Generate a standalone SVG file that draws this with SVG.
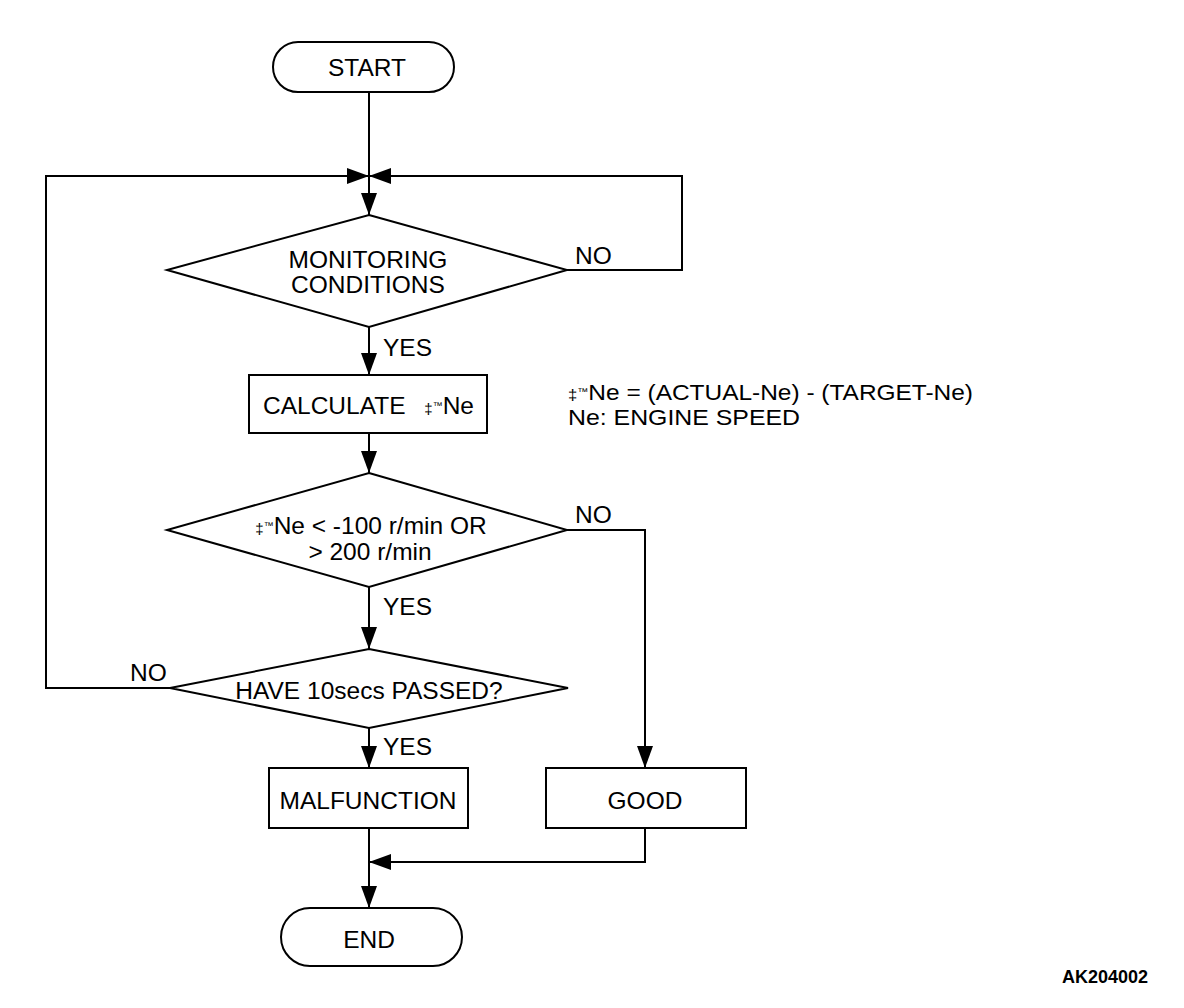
<svg xmlns="http://www.w3.org/2000/svg" width="1184" height="1008" viewBox="0 0 1184 1008">
<style>
.s{fill:#fff;stroke:#000;stroke-width:2}
.c{fill:none;stroke:#000;stroke-width:2}
text{font-family:"Liberation Sans",Arial,sans-serif;font-size:24.5px;fill:#000}
.m{text-anchor:middle}
.n{font-size:22px}
.g1{font-size:15px}
.g2{font-size:10px}
.b{font-weight:bold;font-size:18px}
</style>
<defs>
<marker id="arr" viewBox="0 0 22 16" refX="22" refY="8" markerWidth="22" markerHeight="16" markerUnits="userSpaceOnUse" orient="auto">
<path d="M0,0 L22,8 L0,16 Z" fill="#000"/>
</marker>
</defs>
<rect width="1184" height="1008" fill="#fff"/>
<g id="connectors">
<path class="c" d="M369,92 L369,215" marker-end="url(#arr)"/>
<path class="c" d="M170,688 L46,688 L46,176 L369,176" marker-end="url(#arr)"/>
<path class="c" d="M567,270 L682,270 L682,176 L369,176" marker-end="url(#arr)"/>
<path class="c" d="M369,327 L369,375" marker-end="url(#arr)"/>
<path class="c" d="M369,433 L369,473" marker-end="url(#arr)"/>
<path class="c" d="M567,530 L645,530 L645,768" marker-end="url(#arr)"/>
<path class="c" d="M369,587 L369,649" marker-end="url(#arr)"/>
<path class="c" d="M369,728 L369,768" marker-end="url(#arr)"/>
<path class="c" d="M369,828 L369,908" marker-end="url(#arr)"/>
<path class="c" d="M645,828 L645,862 L369,862" marker-end="url(#arr)"/>
<text x="575" y="264">NO</text>
<text x="383" y="356">YES</text>
<text x="575" y="523">NO</text>
<text x="383" y="615">YES</text>
<text x="130" y="681">NO</text>
<text x="383" y="755">YES</text>
</g>
<g id="start">
<rect class="s" x="273" y="42" width="181" height="50" rx="25"/>
<text class="m" x="367" y="76">START</text>
</g>
<g id="monitoring">
<polygon class="s" points="369,215 567,270 369,327 167,270"/>
<text class="m" x="368" y="268">MONITORING</text>
<text class="m" x="368" y="293">CONDITIONS</text>
</g>
<g id="calculate">
<rect class="s" x="249" y="375" width="238" height="58"/>
<text x="263" y="414">CALCULATE <tspan class="g1" dx="12">‡</tspan><tspan class="g2" dy="-5">™</tspan><tspan dy="5">Ne</tspan></text>
</g>
<g id="note">
<text class="n" x="568" y="400" textLength="405" lengthAdjust="spacingAndGlyphs"><tspan class="g1">‡</tspan><tspan class="g2" dy="-5">™</tspan><tspan dy="5">Ne = (ACTUAL-Ne) - (TARGET-Ne)</tspan></text>
<text class="n" x="568" y="425" textLength="232" lengthAdjust="spacingAndGlyphs">Ne: ENGINE SPEED</text>
</g>
<g id="check">
<polygon class="s" points="369,473 567,530 369,587 167,530"/>
<text class="m" x="371" y="534"><tspan class="g1">‡</tspan><tspan class="g2" dy="-5">™</tspan><tspan dy="5">Ne &lt; -100 r/min OR</tspan></text>
<text class="m" x="370" y="560">&gt; 200 r/min</text>
</g>
<g id="passed">
<polygon class="s" points="369,649 568,688 369,728 170,688"/>
<text class="m" x="369" y="699">HAVE 10secs PASSED?</text>
</g>
<g id="malfunction">
<rect class="s" x="269" y="768" width="199" height="60"/>
<text class="m" x="368" y="809">MALFUNCTION</text>
</g>
<g id="good">
<rect class="s" x="546" y="768" width="200" height="60"/>
<text class="m" x="645" y="809">GOOD</text>
</g>
<g id="end">
<rect class="s" x="281" y="908" width="181" height="58" rx="29"/>
<text class="m" x="369" y="948">END</text>
</g>
<text class="b" x="1148" y="983" text-anchor="end">AK204002</text>
</svg>
